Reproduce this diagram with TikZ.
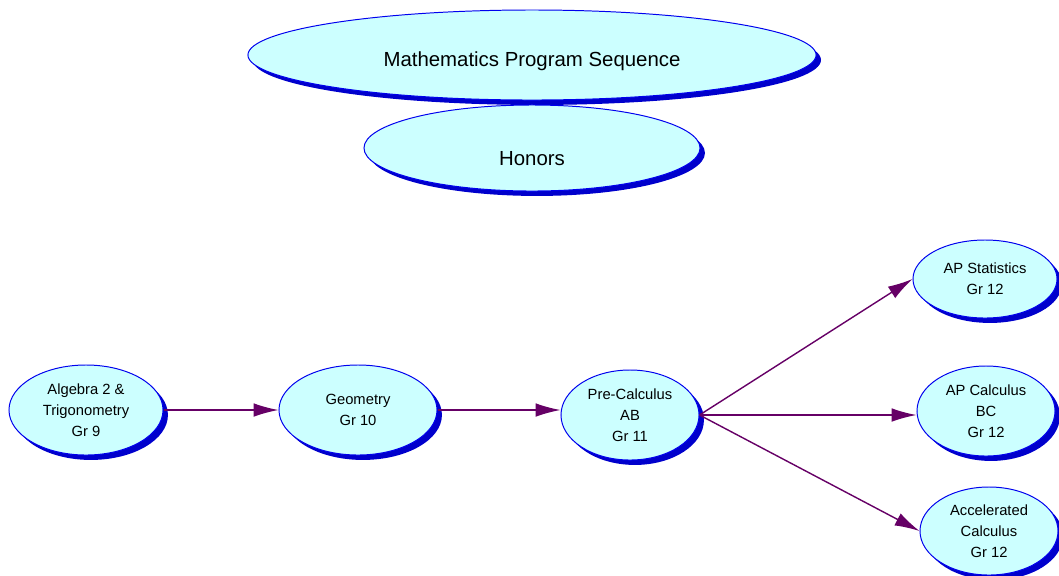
\documentclass[tikz,border=0pt]{standalone}
\usepackage{fontspec}
\setmainfont{Liberation Sans}
\usepackage{xcolor}
\usepackage{tikz}
\usetikzlibrary{shapes.geometric, arrows.meta, shadows}
\definecolor{ovalfill}{HTML}{CCFFFF}
\definecolor{ovalline}{HTML}{0000EE}
\definecolor{ovalshade}{HTML}{0000CC}
\definecolor{seqline}{HTML}{660066}
\tikzset{
  ovalbox/.style={
    ellipse, draw=ovalline, fill=ovalfill, line width=0.7pt,
    inner sep=0pt, align=center,
    drop shadow={shadow xshift=3.5pt, shadow yshift=-3.5pt,
                 fill=ovalshade, opacity=1}
  },
  titleoval/.style={
    ovalbox, font=\fontsize{14.5}{17}\selectfont, text depth=0pt
  },
  courseoval/.style={
    ovalbox, font=\fontsize{10.5}{15}\selectfont
  },
  seqarrow/.style={
    -{Latex[length=6.2mm, width=3.4mm]}, line width=1pt, color=seqline
  },
}

\begin{document}
\begin{tikzpicture}[x=0.025cm, y=-0.025cm]
  \useasboundingbox (0,0) rectangle (1059,575);

  % ── Heading ovals ──────────────────────────────────────────────
  \node[titleoval, minimum width=14.2cm, minimum height=2.25cm,
        text height=16pt]
    (title) at (532,55) {Mathematics Program Sequence};
  \node[titleoval, minimum width=8.4cm, minimum height=2.15cm,
        text height=24.5pt]
    (honors) at (532,148) {Honors};

  % ── Grade 9 to 11 ──────────────────────────────────────────────
  \node[courseoval, minimum width=3.85cm, minimum height=2.25cm]
    (alg) at (86,410) {Algebra 2 \&\\Trigonometry\\Gr 9};
  \node[courseoval, minimum width=3.95cm, minimum height=2.25cm]
    (geo) at (358,410) {Geometry\\Gr 10};
  \node[courseoval, minimum width=3.45cm, minimum height=2.25cm]
    (precalc) at (630,415) {Pre-Calculus\\AB\\Gr 11};

  % ── Grade 12 options ───────────────────────────────────────────
  \node[courseoval, minimum width=3.6cm, minimum height=1.95cm]
    (apstat) at (985,279) {AP Statistics\\Gr 12};
  \node[courseoval, minimum width=3.45cm, minimum height=2.25cm]
    (apcalc) at (986,411) {AP Calculus\\BC\\Gr 12};
  \node[courseoval, minimum width=3.45cm, minimum height=2.2cm]
    (accel) at (989,531) {Accelerated\\Calculus\\Gr 12};

  % ── Sequence arrows ────────────────────────────────────────────
  \draw[seqarrow] (alg.east) -- (geo.west);
  \draw[seqarrow] (geo.east) -- (precalc.west |- geo.east);
  \draw[seqarrow] (precalc.east) -- (apstat.west);
  \draw[seqarrow] (precalc.east) -- (apcalc.west |- precalc.east);
  \draw[seqarrow] (precalc.east) -- (accel.west);
\end{tikzpicture}
\end{document}
